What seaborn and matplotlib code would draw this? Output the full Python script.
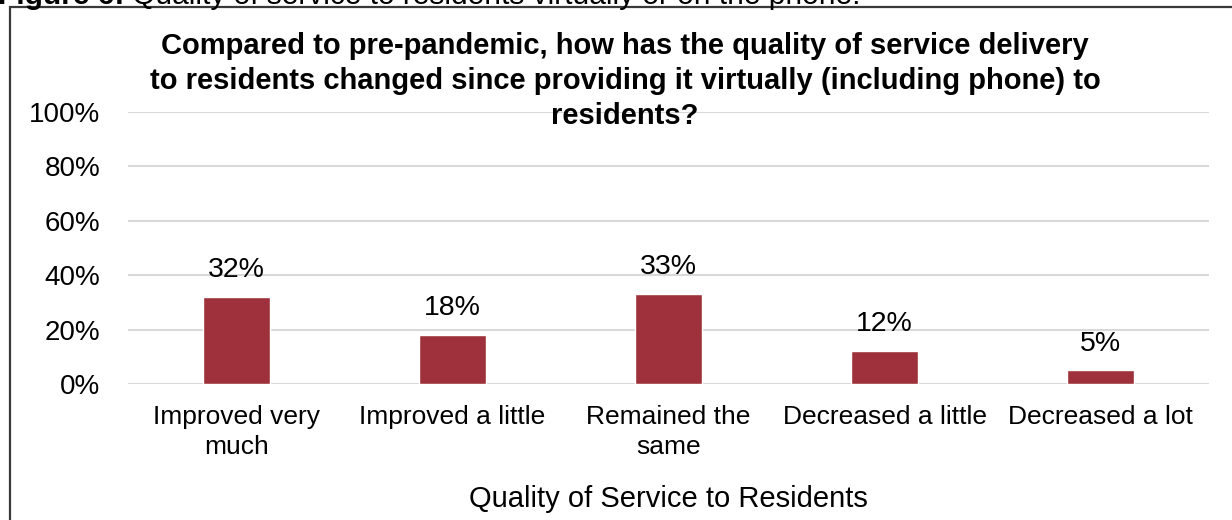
import matplotlib
matplotlib.use("Agg")
import matplotlib.pyplot as plt
from matplotlib.patches import Rectangle
import seaborn as sns
import pandas as pd

categories = ["Improved very\nmuch", "Improved a little", "Remained the\nsame",
              "Decreased a little", "Decreased a lot"]
shares = [32, 18, 33, 12, 5]
y_ticks = [0, 20, 40, 60, 80, 100]
y_tick_labels = ["0%", "20%", "40%", "60%", "80%", "100%"]

title = ("Compared to pre-pandemic, how has the quality of service delivery\n"
         "to residents changed since providing it virtually (including phone) to\n"
         "residents?")
x_title = "Quality of Service to Residents"
caption_bold = "Figure 6:"
caption_rest = " Quality of service to residents virtually or on the phone."

sns.set_theme(style="white")
plt.rcParams["font.family"] = ["Liberation Sans", "DejaVu Sans"]

df = pd.DataFrame({"category": categories, "share": shares})

fig = plt.figure(figsize=(12.32, 5.2), dpi=100)
ax = fig.add_axes([128 / 1232, 1 - 384 / 520, (1209 - 128) / 1232, (384 - 112) / 520])

bar_color = "#9E313B"
sns.barplot(data=df, x="category", y="share", color=bar_color, width=0.31,
            saturation=1, ax=ax)

ax.set_ylim(0, 100)
ax.set_xlim(-0.5, len(categories) - 0.5)
ax.set_yticks(y_ticks)
ax.set_yticklabels(y_tick_labels)
ax.yaxis.grid(True, color="#D9D9D9", linewidth=1.5)
ax.set_axisbelow(True)
for s in ax.spines.values():
    s.set_visible(False)
ax.tick_params(axis="y", length=0, pad=20, labelsize=20, labelcolor="black")
ax.tick_params(axis="x", length=0, pad=15, labelsize=19, labelcolor="black")
for lbl in ax.get_xticklabels():
    lbl.set_linespacing(1.33)
ax.set_ylabel("")
ax.set_xlabel(x_title, fontsize=21, color="black", labelpad=19)

for container in ax.containers:
    ax.bar_label(container, labels=[f"{v}%" for v in shares], padding=10,
                 fontsize=20.5, color="black")

fig.text(625 / 1232, 1 - 81 / 520, title, ha="center", va="center",
         fontsize=21, fontweight="bold", color="black", linespacing=1.32)

# Outer frame, open to the right and bottom
frame = Rectangle((9.5 / 1232, -0.1), 1.2, 1 - 7.5 / 520 + 0.1,
                  transform=fig.transFigure, fill=False,
                  edgecolor="#3A3A3A", linewidth=1.6)
fig.patches.append(frame)

# Caption above the frame
base_y = 1 - 4 / 520
t1 = fig.text(-2 / 1232, base_y, caption_bold, ha="left", va="baseline",
              fontsize=21.5, fontweight="bold", color="black")
fig.canvas.draw()
bb = t1.get_window_extent()
fig.text(bb.x1 / fig.bbox.width, base_y, caption_rest, ha="left",
         va="baseline", fontsize=21.5, color="black")

fig.savefig("out.png", dpi=100, facecolor="white")
